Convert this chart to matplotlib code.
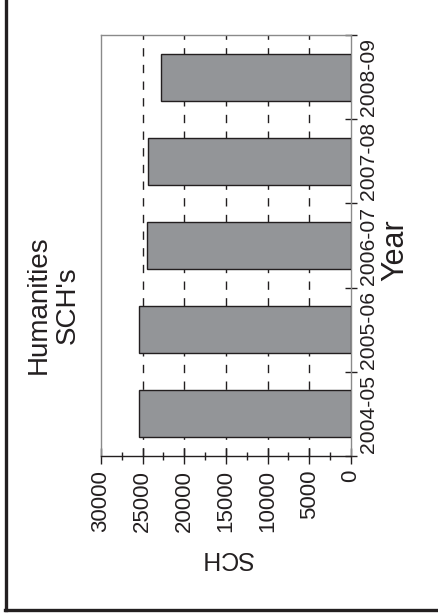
import matplotlib
matplotlib.use("Agg")
import matplotlib.pyplot as plt
from matplotlib.lines import Line2D
from matplotlib.ticker import MultipleLocator, FixedLocator, NullFormatter

plt.rcParams['font.family'] = ['Liberation Sans', 'DejaVu Sans']

years = ["2004-05", "2005-06", "2006-07", "2007-08", "2008-09"]
sch = [25500, 25500, 24450, 24400, 22850]
value_ticks = [0, 5000, 10000, 15000, 20000, 25000, 30000]

W, H = 439, 616
fig = plt.figure(figsize=(W / 100, H / 100), dpi=100)

def fx(px):
    return px / W

def fy(py):
    return 1 - py / H

left, right, top, bottom = 101, 351, 35, 456
ax = fig.add_axes([fx(left), fy(bottom), fx(right) - fx(left), fy(top) - fy(bottom)])

pos = list(range(len(years)))
ax.barh(pos, sch, height=0.56, color="#939598", edgecolor="#231f20", linewidth=1.0, zorder=3)

ax.set_xlim(30000, 0)
ax.set_ylim(-0.5, len(years) - 0.5)

# value axis (bottom)
ax.xaxis.set_major_locator(FixedLocator(value_ticks))
ax.xaxis.set_minor_locator(MultipleLocator(2500))
ax.set_xticklabels([str(v) for v in value_ticks], rotation=90, fontsize=16, color="#231f20")
ax.tick_params(axis="x", which="major", direction="inout", length=12, width=1, color="#231f20", pad=4)
ax.tick_params(axis="x", which="minor", direction="inout", length=6, width=1, color="#231f20")

# category axis (right)
ax.yaxis.tick_right()
ax.yaxis.set_major_locator(FixedLocator([p - 0.5 for p in pos] + [len(years) - 0.5]))
ax.yaxis.set_major_formatter(NullFormatter())
ax.yaxis.set_minor_locator(FixedLocator(pos))
ax.set_yticklabels(years, minor=True, rotation=90, fontsize=15.2, color="#231f20", va="center")
ax.tick_params(axis="y", which="major", direction="inout", length=9, width=1, color="#231f20", left=False, right=True)
ax.tick_params(axis="y", which="minor", length=0, pad=6, left=False, right=True)

# grid
for v in value_ticks[1:-1]:
    ax.axvline(v, color="#231f20", linewidth=1.0, linestyle=(0, (6, 6)), zorder=1)

for s in ["left", "top", "right"]:
    ax.spines[s].set_color("#8a8a8a")
    ax.spines[s].set_linewidth(1.0)
ax.spines["bottom"].set_color("#231f20")
ax.spines["bottom"].set_linewidth(1.0)

# texts
fig.text(fx(53), fy(305), "Humanities\nSCH's", rotation=90, ha="center", va="center",
         multialignment="center", fontsize=20, color="#231f20", linespacing=1.15)
fig.text(fx(395), fy(250), "Year", rotation=90, ha="center", va="center", fontsize=22, color="#231f20")
fig.text(fx(226), fy(558), "SCH", rotation=180, ha="center", va="center", fontsize=18, color="#231f20")

# frame lines (left and bottom)
fig.add_artist(Line2D([fx(6.5), fx(6.5)], [fy(0), fy(610)], color="#231f20", linewidth=2.4, transform=fig.transFigure))
fig.add_artist(Line2D([fx(5), fx(439)], [fy(609.5), fy(609.5)], color="#231f20", linewidth=2.4, transform=fig.transFigure))

fig.savefig("out.png", dpi=100)
